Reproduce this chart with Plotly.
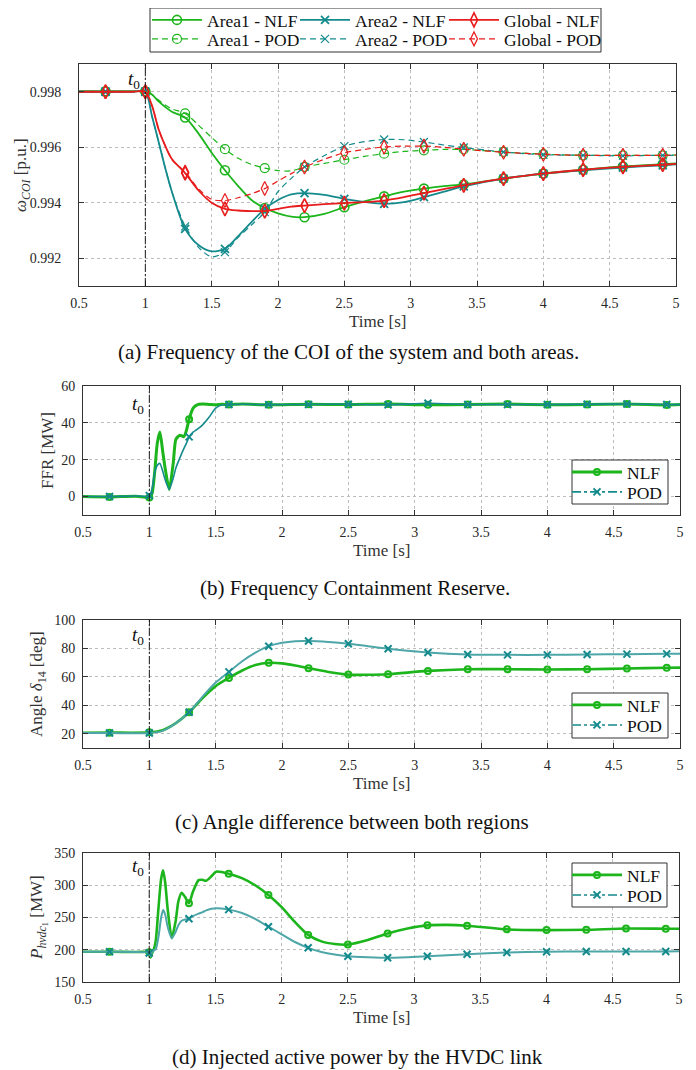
import plotly.graph_objects as go

# the page body has an 8px margin, so the figure is placed at (8, 8)
OFF = 8
W, H = 696 - OFF, 1070 - OFF

# ---------------- data ----------------
# marker instants (every 0.3 s from 0.7 s)
MARK_T = [0.7, 1.0, 1.3, 1.6, 1.9, 2.2, 2.5, 2.8, 3.1, 3.4, 3.7, 4.0, 4.3, 4.6, 4.9]

# (a) COI frequency [p.u.]
T_A = [0.5, 0.7, 0.9, 1.0, 1.05, 1.1, 1.15, 1.2, 1.3, 1.4, 1.5, 1.6, 1.7, 1.8, 1.9, 2.0,
       2.1, 2.2, 2.35, 2.5, 2.65, 2.8, 2.95, 3.1, 3.25, 3.4, 3.7, 4.0, 4.3, 4.6, 4.9, 5.0]
area1_nlf = [0.99802, 0.99802, 0.99802, 0.99802, 0.99790, 0.99765, 0.99745, 0.99728, 0.99707,
             0.99650, 0.99580, 0.99517, 0.99460, 0.99410, 0.99381, 0.99362, 0.99350, 0.99348,
             0.99360, 0.99384, 0.99405, 0.99423, 0.99440, 0.99451, 0.99460, 0.99466, 0.99487,
             0.99505, 0.99519, 0.99531, 0.99539, 0.99542]
area1_pod = [0.99800, 0.99800, 0.99800, 0.99800, 0.99790, 0.99770, 0.99752, 0.99738, 0.99722,
             0.99680, 0.99635, 0.99593, 0.99560, 0.99538, 0.99525, 0.99516, 0.99515, 0.99529,
             0.99542, 0.99555, 0.99567, 0.99577, 0.99585, 0.99589, 0.99592, 0.99592, 0.99583,
             0.99575, 0.99571, 0.99571, 0.99571, 0.99572]
area2_nlf = [0.99800, 0.99800, 0.99800, 0.99800, 0.99712, 0.99620, 0.99525, 0.99440, 0.99306,
             0.99248, 0.99225, 0.99234, 0.99280, 0.99330, 0.99378, 0.99410, 0.99430, 0.99435,
             0.99428, 0.99414, 0.99403, 0.99396, 0.99402, 0.99420, 0.99440, 0.99459, 0.99487,
             0.99505, 0.99517, 0.99527, 0.99535, 0.99538]
area2_pod = [0.99800, 0.99800, 0.99800, 0.99800, 0.99712, 0.99620, 0.99525, 0.99440, 0.99315,
             0.99240, 0.99205, 0.99222, 0.99275, 0.99320, 0.99366, 0.99440, 0.99488, 0.99529,
             0.99570, 0.99604, 0.99620, 0.99628, 0.99627, 0.99619, 0.99608, 0.99599, 0.99583,
             0.99573, 0.99571, 0.99569, 0.99571, 0.99571]
global_nlf = [0.99800, 0.99800, 0.99800, 0.99800, 0.99750, 0.99665, 0.99605, 0.99558, 0.99507,
              0.99445, 0.99400, 0.99378, 0.99372, 0.99370, 0.99370, 0.99378, 0.99386, 0.99390,
              0.99395, 0.99399, 0.99402, 0.99408, 0.99420, 0.99435, 0.99449, 0.99463, 0.99487,
              0.99505, 0.99519, 0.99529, 0.99537, 0.99540]
global_pod = [0.99800, 0.99800, 0.99800, 0.99800, 0.99750, 0.99665, 0.99605, 0.99556, 0.99511,
              0.99450, 0.99412, 0.99408, 0.99418, 0.99432, 0.99451, 0.99478, 0.99505, 0.99529,
              0.99557, 0.99580, 0.99592, 0.99601, 0.99604, 0.99604, 0.99600, 0.99593, 0.99582,
              0.99575, 0.99571, 0.99571, 0.99571, 0.99572]

# (b) FFR [MW]
T_B = [0.5, 0.7, 0.9, 1.0, 1.02, 1.04, 1.06, 1.08, 1.1, 1.12, 1.15, 1.18, 1.2, 1.23, 1.26,
       1.28, 1.3, 1.33, 1.36, 1.4, 1.45, 1.5, 1.55, 1.6, 1.7, 1.9, 2.2, 2.5, 2.8, 3.1, 3.4,
       3.7, 4.0, 4.3, 4.6, 4.9, 5.0]
ffr_nlf = [0.0, -0.2, 0.2, -0.5, 1.5, 13, 29, 35, 25, 15, 3.8, 18, 31, 33.3, 32.5, 36, 42,
           48, 49.8, 50.2, 50.0, 49.8, 50.1, 49.9, 50.2, 49.8, 50.1, 49.9, 50.2, 49.8, 50.0,
           50.2, 49.8, 50.0, 50.2, 49.7, 49.9]
ffr_pod = [0.0, 0.0, 0.3, 0.5, 4, 13, 17, 18, 14, 9, 4, 10, 15.5, 21, 26, 29, 32.4, 35, 36.5,
           38.8, 43, 48, 49.8, 50.0, 50.1, 49.9, 50.0, 50.1, 49.8, 50.6, 50.0, 49.9, 50.0,
           50.1, 50.2, 50.0, 49.9]

# (c) angle difference [deg]
T_C = [0.5, 0.7, 1.0, 1.1, 1.2, 1.3, 1.4, 1.5, 1.6, 1.7, 1.8, 1.9, 2.0, 2.1, 2.2, 2.35, 2.5,
       2.65, 2.8, 3.1, 3.4, 3.7, 4.0, 4.3, 4.6, 4.9, 5.0]
ang_nlf = [20.7, 20.8, 21.0, 22.5, 27.5, 35.1, 45.0, 53.5, 59.3, 64.5, 68.3, 69.9, 69.5, 68.0,
           66.1, 63.5, 61.6, 61.5, 61.9, 64.2, 65.4, 65.4, 65.2, 65.4, 65.9, 66.4, 66.5]
ang_pod = [20.5, 20.5, 20.5, 22.0, 27.5, 35.1, 46.0, 56.0, 63.5, 71.0, 77.0, 81.6, 84.0, 85.1,
           85.2, 84.5, 83.3, 81.5, 79.8, 77.2, 75.8, 75.5, 75.5, 75.8, 76.0, 76.2, 76.3]

# (d) HVDC injected power [MW]
T_D = [0.5, 0.7, 0.9, 1.0, 1.01, 1.02, 1.035, 1.05, 1.07, 1.09, 1.105, 1.12, 1.14, 1.17, 1.2,
       1.22, 1.245, 1.27, 1.3, 1.33, 1.3725, 1.4, 1.43, 1.47, 1.505, 1.6, 1.7, 1.8, 1.9, 2.0,
       2.1, 2.2, 2.3, 2.4, 2.5, 2.65, 2.8, 2.95, 3.1, 3.25, 3.4, 3.7, 4.0, 4.3, 4.6, 4.9, 5.0]
p_nlf = [196.8, 196.8, 196.5, 196.0, 188, 194, 201, 215, 265, 310, 323, 305, 262, 218, 245,
         275, 288.5, 282, 272, 290, 308, 308.5, 307, 314, 321, 318, 311, 300, 285, 266, 243,
         223, 213, 209, 208, 215, 225.3, 233, 237.8, 238.5, 237.3, 231.6, 230.5, 231, 233,
         232.6, 232.6]
p_pod = [196.8, 196.8, 196.5, 195.0, 190, 196, 199, 201, 220, 250, 261.5, 255, 235, 218, 228,
         238, 245, 247, 248, 252, 256, 258, 261, 263.5, 264.5, 262.2, 257, 248, 235.7, 224,
         212, 203, 196.5, 192.5, 190, 188.5, 187.5, 188.5, 190, 191.5, 193, 195.7, 196.8,
         197.3, 197.3, 197.3, 197.5]

X_TICKS = [0.5, 1, 1.5, 2, 2.5, 3, 3.5, 4, 4.5, 5]
X_TICKTEXT = ['0.5', '1', '1.5', '2', '2.5', '3', '3.5', '4', '4.5', '5']

# ---------------- styling ----------------
GREEN = '#1cb51c'
TEAL = '#148a8c'
TEAL_L = '#4ea6a8'
RED = '#e81c1c'
FONT = '"Liberation Serif", "Times New Roman", serif'
AX = '#333333'


def P(x):
    # page pixel -> paper fraction
    return (x - OFF) / W


def Q(y):
    return 1 - (y - OFF) / H


def marks(t, y):
    idx = [i for i, v in enumerate(t) if any(abs(v - m) < 1e-9 for m in MARK_T)]
    return [t[i] for i in idx], [y[i] for i in idx]


fig = go.Figure()
legends = {}


def add_series(t, y, color, dash, symbol, msize, mwidth, lw, ax, name, leg_pos,
               leg_dash=None, smooth=0.8, mcolor=None):
    xa, ya = 'x' + ax, 'y' + ax
    fig.add_trace(go.Scatter(x=t, y=y, mode='lines', xaxis=xa, yaxis=ya, showlegend=False,
                             line=dict(color=color, width=lw, dash=dash, shape='spline',
                                       smoothing=smooth), hoverinfo='skip'))
    mx, my = marks(t, y)
    mk = dict(symbol=symbol, size=msize, color=mcolor or color,
              line=dict(color=mcolor or color, width=mwidth))
    fig.add_trace(go.Scatter(x=mx, y=my, mode='markers', xaxis=xa, yaxis=ya, showlegend=False,
                             marker=mk, hoverinfo='skip'))
    # one legend per entry so each entry can sit exactly where it is in the reference
    key = 'legend' if not legends else 'legend%d' % (len(legends) + 1)
    legends[key] = dict(orientation='v', bgcolor='rgba(0,0,0,0)', borderwidth=0, itemwidth=50,
                        font=dict(family=FONT, size=17.5, color='#111'), itemclick=False,
                        xanchor='left', yanchor='middle', x=P(leg_pos[0]), y=Q(leg_pos[1]))
    fig.add_trace(go.Scatter(x=[None], y=[None], mode='lines+markers', xaxis=xa, yaxis=ya,
                             name=name, legend=key, marker=mk,
                             line=dict(color=color, width=lw, dash=leg_dash or dash)))


# panel (a)
A_DASH = '6px,4px'
add_series(T_A, area1_nlf, GREEN, 'solid', 'circle-open', 9, 1.6, 1.8, '', 'Area1 - NLF', (147, 20))
add_series(T_A, area1_pod, GREEN, A_DASH, 'circle-open', 9, 1.2, 1.2, '', 'Area1 - POD', (147, 39))
add_series(T_A, area2_nlf, TEAL, 'solid', 'x-thin-open', 8, 1.8, 1.8, '', 'Area2 - NLF', (295, 20))
add_series(T_A, area2_pod, TEAL, A_DASH, 'x-thin-open', 8, 1.2, 1.2, '', 'Area2 - POD', (295, 39))
add_series(T_A, global_nlf, RED, 'solid', 'diamond-tall-open', 10, 1.6, 1.8, '', 'Global - NLF',
           (444, 20))
add_series(T_A, global_pod, RED, A_DASH, 'diamond-tall-open', 10, 1.2, 1.2, '', 'Global - POD',
           (444, 39))

# panel (b)
add_series(T_B, ffr_nlf, GREEN, 'solid', 'circle-open', 6, 2, 3, '2', 'NLF', (567, 472), smooth=0.6)
add_series(T_B, ffr_pod, TEAL, 'solid', 'x-thin-open', 7, 2, 1.6, '2', 'POD', (567, 492),
           leg_dash='dashdot', smooth=0.6)
# panel (c)
add_series(T_C, ang_nlf, GREEN, 'solid', 'circle-open', 6, 2, 2.6, '3', 'NLF', (567, 705))
add_series(T_C, ang_pod, TEAL_L, 'solid', 'x-thin-open', 7, 2, 2, '3', 'POD', (567, 725),
           leg_dash='dashdot', mcolor=TEAL)
# panel (d)
add_series(T_D, p_nlf, GREEN, 'solid', 'circle-open', 6, 2, 2.6, '4', 'NLF', (567, 875), smooth=0.6)
add_series(T_D, p_pod, TEAL_L, 'solid', 'x-thin-open', 7, 2, 2, '4', 'POD', (567, 895),
           leg_dash='dashdot', smooth=0.6, mcolor=TEAL)

# ---------------- axes ----------------
panels = [
    # suffix, x px range, y px range, y range, y ticks, tick text, label standoff
    ('', (79, 676), (64, 286), [0.991, 0.999], [0.992, 0.994, 0.996, 0.998],
     ['0.992', '0.994', '0.996', '0.998'], 14),
    ('2', (83, 680), (386, 515), [-10, 60], [0, 20, 40, 60], ['0', '20', '40', '60'], 4),
    ('3', (83, 680), (620, 748), [10, 100], [20, 40, 60, 80, 100],
     ['20', '40', '60', '80', '100'], 4),
    ('4', (83, 679), (853, 982), [150, 350], [150, 200, 250, 300, 350],
     ['150', '200', '250', '300', '350'], 4),
]
layout = {}
for sfx, (x0, x1), (y0, y1), yr, yt, ytt, stand in panels:
    common = dict(showline=True, linecolor=AX, linewidth=1, mirror='ticks', ticks='inside',
                  ticklen=5, tickcolor=AX, showgrid=True, gridcolor='#bdbdbd', griddash='dot',
                  gridwidth=1, zeroline=False, automargin=False,
                  tickfont=dict(family=FONT, size=14, color='#262626'))
    layout['xaxis' + sfx] = dict(common, domain=[P(x0), P(x1)], range=[0.5, 5], tickvals=X_TICKS,
                                 ticktext=X_TICKTEXT, anchor='y' + sfx, ticklabelstandoff=4)
    layout['yaxis' + sfx] = dict(common, domain=[Q(y1), Q(y0)], range=yr, tickvals=yt,
                                 ticktext=ytt, anchor='x' + sfx, ticklabelstandoff=stand)
    # t0 marker line
    fig.add_shape(type='line', xref='x' + sfx, yref='y' + sfx + ' domain', x0=1, x1=1, y0=0, y1=1,
                  line=dict(color='#1a1a1a', width=1, dash='8px,2px,2px,2px'))
    # x-axis title
    fig.add_annotation(text='Time [s]', xref='paper', yref='paper', x=P((x0 + x1) / 2),
                       y=Q(y1 + 35), xanchor='center', yanchor='middle', showarrow=False,
                       font=dict(family=FONT, size=17, color='#333'))

fig.update_layout(**layout)

# t0 labels
for sfx, ypx in [('', 80), ('2', 405), ('3', 636), ('4', 867)]:
    fig.add_annotation(text='<i>t</i><sub>0</sub>', xref='x' + sfx, yref='paper', x=1, y=Q(ypx),
                       xanchor='right', yanchor='middle', xshift=-3, showarrow=False,
                       font=dict(family=FONT, size=19, color='#111'))

# y-axis titles
ytitles = [
    ('<i>ω</i><sub><i>COI</i></sub> [p.u.]', 22, 175),
    ('FFR [MW]', 47, 451),
    ('Angle <i>δ</i><sub>14</sub> [deg]', 38, 684),
    ('<i>P</i><sub><i>hvdc</i><sub>1</sub></sub> [MW]', 38, 918),
]
for txt, xp, yp in ytitles:
    fig.add_annotation(text=txt, xref='paper', yref='paper', x=P(xp), y=Q(yp), textangle=-90,
                       xanchor='center', yanchor='middle', showarrow=False,
                       font=dict(family=FONT, size=17, color='#333'))

# captions
captions = [
    ('(a) Frequency of the COI of the system and both areas.', 348, 352),
    ('(b) Frequency Containment Reserve.', 355, 588),
    ('(c) Angle difference between both regions', 352, 822),
    ('(d) Injected active power by the HVDC link', 357, 1057),
]
for txt, xp, yp in captions:
    fig.add_annotation(text=txt, xref='paper', yref='paper', x=P(xp), y=Q(yp), xanchor='center',
                       yanchor='middle', showarrow=False,
                       font=dict(family=FONT, size=21, color='#111'))

# legend frames
frames = [((150, 8), (601, 52), 'rgba(0,0,0,0)'),
          ((572, 460), (668, 504), 'white'),
          ((572, 693), (668, 738), 'white'),
          ((572, 863), (667, 907), 'white')]
for (fx0, fy0), (fx1, fy1), fill in frames:
    fig.add_shape(type='rect', xref='paper', yref='paper', x0=P(fx0), x1=P(fx1), y0=Q(fy1),
                  y1=Q(fy0), line=dict(color=AX, width=1), fillcolor=fill, layer='above')

fig.update_layout(
    width=W, height=H,
    margin=dict(l=0, r=0, t=0, b=0, autoexpand=False),
    font=dict(family=FONT),
    paper_bgcolor='white', plot_bgcolor='white',
    **legends,
)

fig.write_html("out.html")
